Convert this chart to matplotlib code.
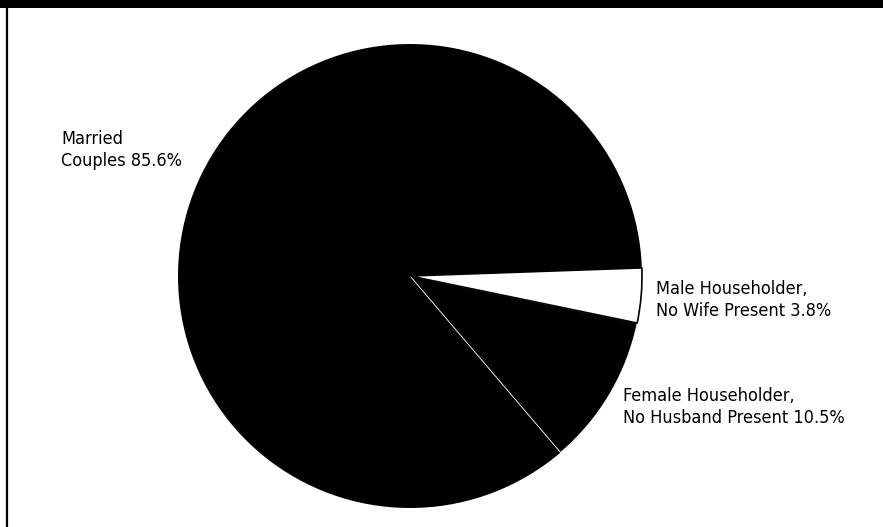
import matplotlib.pyplot as plt
from matplotlib import font_manager
from matplotlib.patches import Rectangle

# pick a narrow sans if one is installed, else fall back
narrow = [f for f in font_manager.fontManager.ttflist
          if ("Narrow" in f.name or "Condensed" in f.name or f.stretch in ("condensed", "semi-condensed"))
          and f.style == "normal"]
if narrow:
    font_kw = dict(family=[narrow[0].name, "DejaVu Sans"], stretch=narrow[0].stretch, size=13)
else:
    font_kw = dict(family=["Liberation Sans", "DejaVu Sans"], size=12.5)

# data
groups = ["Married\nCouples", "Female Householder,\nNo Husband Present", "Male Householder,\nNo Wife Present"]
shares = [85.6, 10.5, 3.8]
face_colors = ["black", "black", "white"]

W, H = 883, 527
fig = plt.figure(figsize=(W / 100, H / 100), dpi=100)
ax = fig.add_axes([0, 0, 1, 1])

wedges, _ = ax.pie(shares, colors=face_colors, startangle=2, counterclock=True,
                   center=(410, H - 276), radius=232, frame=True)
wedges[0].set_linewidth(0)
wedges[1].set_edgecolor("white")
wedges[1].set_linewidth(0.6)
wedges[2].set_edgecolor("black")
wedges[2].set_linewidth(1.2)
ax.set_xlim(0, W)
ax.set_ylim(0, H)
ax.set_aspect("equal")
ax.axis("off")

# labels (y = baseline of last line, from top)
label_pos = [(61, 166), (623, 423), (656, 316)]
for name, val, (x, y) in zip(groups, shares, label_pos):
    ax.text(x, H - y, f"{name} {val}%", va="baseline", ha="left",
            linespacing=1.28, color="black", **font_kw)

# header band and left rule
ax.add_patch(Rectangle((0, H - 8), W, 8, color="black", lw=0))
ax.plot([6.5, 6.5], [0, H - 8], color="black", lw=1.6)

fig.savefig("out.png", dpi=100)
